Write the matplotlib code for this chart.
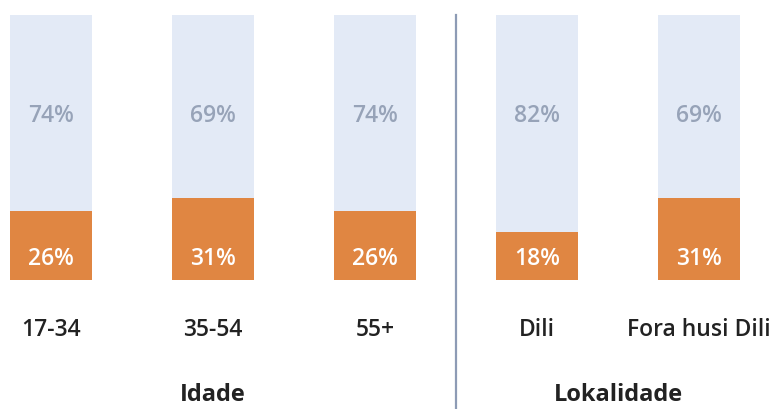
import matplotlib
matplotlib.use("Agg")
import matplotlib.pyplot as plt

# data
categories = ["17-34", "35-54", "55+", "Dili", "Fora husi Dili"]
orange_vals = [26, 31, 26, 18, 31]
blue_vals = [74, 69, 74, 82, 69]
groups = ["Idade", "Lokalidade"]
group_pos = [1, 3.5]

ORANGE = "#e08642"
LIGHT = "#e3eaf6"
GREYTXT = "#97a3b8"
DARK = "#222222"

plt.rcParams["font.family"] = ["Open Sans", "DejaVu Sans"]

fig = plt.figure(figsize=(7.8, 4.09), dpi=100)
W, H = 780, 409
# bars run from y=280px (bottom) to y=15px (top)
ax = fig.add_axes([0, (H - 280) / H, 1, 265 / H])
x = list(range(len(categories)))
ax.bar(x, orange_vals, width=0.506, color=ORANGE)
ax.bar(x, blue_vals, bottom=orange_vals, width=0.506, color=LIGHT)
ax.set_xlim(-51 / 162, (W - 51) / 162)
ax.set_ylim(0, 100)
ax.axis("off")

for xi, o, b in zip(x, orange_vals, blue_vals):
    ax.text(xi, 8, f"{o}%", ha="center", va="center", color="white",
            fontsize=16.5, fontweight="semibold")
    ax.text(xi, 62, f"{b}%", ha="center", va="center", color=GREYTXT,
            fontsize=16.5, fontweight="semibold")
    ax.text(xi, -(330 - 280) / 265 * 100, categories[xi], ha="center",
            va="center", color=DARK, fontsize=16.5, fontweight="semibold")

for g, gp in zip(groups, group_pos):
    ax.text(gp, -(395 - 280) / 265 * 100, g, ha="center", va="center",
            color=DARK, fontsize=17, fontweight="bold")

# divider between the two groups
ax.axvline(2.5, ymin=-(409 - 280) / 265, ymax=1, color="#8d9bb5",
           linewidth=1.6, clip_on=False)

fig.savefig("out.png", dpi=100)
